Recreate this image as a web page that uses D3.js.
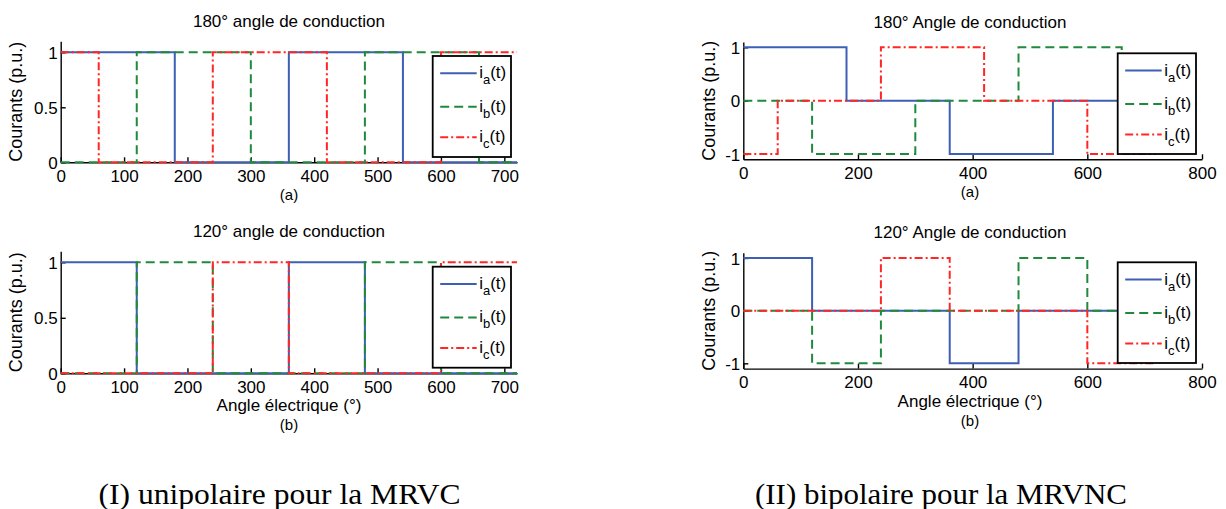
<!DOCTYPE html>
<html><head><meta charset="utf-8">
<script src="https://cdn.jsdelivr.net/npm/d3@7"></script>
<style>body{margin:0;background:#fff}svg{display:block}</style>
</head><body>
<svg id="c" width="1226" height="509"></svg>
<script>
// ---------- data ----------
const ticksLeftX = [0,100,200,300,400,500,600,700];
const ticksRightX = [0,200,400,600,800];
const ticksLeftY = [0,0.5,1];
const ticksRightY = [-1,0,1];
const tickLabelsLeftY = ["0","0.5","1"];
const tickLabelsRightY = ["-1","0","1"];

// 180° unipolar
const u180_ia_x = [0,180,360,540,720], u180_ia_y = [1,0,1,0,0];
const u180_ib_x = [0,120,300,480,660,720], u180_ib_y = [0,1,0,1,0,0];
const u180_ic_x = [0,60,240,420,600,720], u180_ic_y = [1,0,1,0,1,1];
// 120° unipolar
const u120_ia_x = [0,120,360,480,720], u120_ia_y = [1,0,1,0,0];
const u120_ib_x = [0,120,240,480,600,720], u120_ib_y = [0,1,0,1,0,0];
const u120_ic_x = [0,240,360,600,720], u120_ic_y = [0,1,0,1,1];
// 180° bipolar
const b180_ia_x = [0,180,360,540,720], b180_ia_y = [1,0,-1,0,0];
const b180_ib_x = [0,120,300,480,660,720], b180_ib_y = [0,-1,0,1,0,0];
const b180_ic_x = [0,60,240,420,600,720], b180_ic_y = [-1,0,1,0,-1,-1];
// 120° bipolar
const b120_ia_x = [0,120,360,480,720], b120_ia_y = [1,0,-1,0,0];
const b120_ib_x = [0,120,240,480,600,720], b120_ib_y = [0,-1,0,1,0,0];
const b120_ic_x = [0,240,360,600,720], b120_ic_y = [0,1,0,-1,-1];

const seriesNames = ["a","b","c"];
const titles = ["180° angle de conduction","120° angle de conduction","180° Angle de conduction","120° Angle de conduction"];
const subLabels = ["(a)","(b)","(a)","(b)"];
const xLabel = "Angle électrique (°)";
const yLabel = "Courants (p.u.)";
const captions = ["(I) unipolaire pour la MRVC","(II) bipolaire pour la MRVNC"];

// ---------- styles ----------
const colors = ["#3d5fb4","#1f8a3c","#ff2626"];
const dashes = [null,"9,5","8,3,2,3"];
const FONT = "Liberation Sans, Arial, sans-serif";

const zip = (xs,ys)=>xs.map((x,i)=>[x,ys[i]]);

const panels = [
  {title:titles[0], sub:subLabels[0], xl:null,
   xd:[0,720], xr:[60.7,517], yd:[0,1.1], yr:[162.3,41.3],
   xt:ticksLeftX, yt:ticksLeftY, ytl:tickLabelsLeftY, cx:289, ylx:22,
   series:[zip(u180_ia_x,u180_ia_y),zip(u180_ib_x,u180_ib_y),zip(u180_ic_x,u180_ic_y)],
   leg:{x:432.7,y:56,w:78.3,h:101}},
  {title:titles[1], sub:subLabels[1], xl:xLabel,
   xd:[0,720], xr:[60.7,517], yd:[0,1.1], yr:[373.3,251.2],
   xt:ticksLeftX, yt:ticksLeftY, ytl:tickLabelsLeftY, cx:289, ylx:22,
   series:[zip(u120_ia_x,u120_ia_y),zip(u120_ib_x,u120_ib_y),zip(u120_ic_x,u120_ic_y)],
   leg:{x:432.7,y:266.7,w:78.3,h:101}},
  {title:titles[2], sub:subLabels[2], xl:null,
   xd:[0,800], xr:[743.3,1202], yd:[-1.1,1.1], yr:[159.3,42],
   xt:ticksRightX, yt:ticksRightY, ytl:tickLabelsRightY, cx:970, ylx:715,
   series:[zip(b180_ia_x,b180_ia_y),zip(b180_ib_x,b180_ib_y),zip(b180_ic_x,b180_ic_y)],
   leg:{x:1117.7,y:53.3,w:78.3,h:100.7}},
  {title:titles[3], sub:subLabels[3], xl:xLabel,
   xd:[0,800], xr:[743.3,1202], yd:[-1.1,1.1], yr:[368.6,252.7],
   xt:ticksRightX, yt:ticksRightY, ytl:tickLabelsRightY, cx:970, ylx:715,
   series:[zip(b120_ia_x,b120_ia_y),zip(b120_ib_x,b120_ib_y),zip(b120_ic_x,b120_ic_y)],
   leg:{x:1117.7,y:262.3,w:78.3,h:100.7}}
];

const svg = d3.select("#c");

panels.forEach(p=>{
  const x = d3.scaleLinear().domain(p.xd).range(p.xr);
  const y = d3.scaleLinear().domain(p.yd).range(p.yr);
  const g = svg.append("g");
  const y0 = p.yr[0], x0 = p.xr[0];

  // axes (left + bottom) with inward ticks
  const xAxis = d3.axisBottom(x).tickValues(p.xt).tickSizeInner(-5).tickSizeOuter(0);
  const gx = g.append("g").attr("transform",`translate(0,${y0})`).call(xAxis);
  const yAxis = d3.axisLeft(y).tickValues(p.yt).tickFormat((d,i)=>p.ytl[i]).tickSizeInner(-5).tickSizeOuter(0).tickPadding(3);
  const gy = g.append("g").attr("transform",`translate(${x0},0)`).call(yAxis);
  [gx,gy].forEach(a=>{
    a.select(".domain").attr("stroke","#000").attr("stroke-width",1.4);
    a.selectAll(".tick line").attr("stroke","#000").attr("stroke-width",1.4);
    a.selectAll(".tick text").attr("font-family",FONT).attr("font-size",17).attr("fill","#000");
  });
  gx.selectAll(".tick text").attr("dy",null).attr("y",19.5);
  gy.selectAll(".tick text").attr("dy","0.36em");

  // series
  const line = d3.line().x(d=>x(d[0])).y(d=>y(d[1])).curve(d3.curveStepAfter);
  p.series.forEach((s,i)=>{
    g.append("path").datum(s).attr("d",line).attr("fill","none")
      .attr("stroke",colors[i]).attr("stroke-width",2)
      .attr("stroke-dasharray",dashes[i]);
  });

  // title
  g.append("text").attr("x",p.cx).attr("y",p.yr[1]-14.5).attr("text-anchor","middle")
    .attr("font-family",FONT).attr("font-size",17).text(p.title);
  // y label
  g.append("text").attr("transform",`translate(${p.ylx},${(p.yr[0]+p.yr[1])/2}) rotate(-90)`)
    .attr("text-anchor","middle").attr("font-family",FONT).attr("font-size",18).text(yLabel);
  // x label
  let subY = y0+38;
  if(p.xl){
    g.append("text").attr("x",p.cx).attr("y",y0+38).attr("text-anchor","middle")
      .attr("font-family",FONT).attr("font-size",17).text(p.xl);
    subY = y0+57;
  }
  g.append("text").attr("x",p.cx).attr("y",subY).attr("text-anchor","middle")
    .attr("font-family",FONT).attr("font-size",15).text(p.sub);

  // legend
  const L = p.leg;
  const lg = g.append("g");
  lg.append("rect").attr("x",L.x).attr("y",L.y).attr("width",L.w).attr("height",L.h)
    .attr("fill","#fff").attr("stroke","#000").attr("stroke-width",1.8);
  const rowsY = [17.3,50.7,81.3];
  seriesNames.forEach((n,i)=>{
    const ly = L.y + rowsY[i];
    lg.append("line").attr("x1",L.x+7.5).attr("x2",L.x+44).attr("y1",ly).attr("y2",ly)
      .attr("stroke",colors[i]).attr("stroke-width",2).attr("stroke-dasharray",dashes[i]);
    const t = lg.append("text").attr("x",L.x+46.5).attr("y",ly+5).attr("font-family",FONT).attr("font-size",17);
    t.append("tspan").text("i");
    t.append("tspan").attr("font-size",13).attr("dy",6).text(n);
    t.append("tspan").attr("dy",-6).text("(t)");
  });
});

// captions
svg.append("text").attr("x",279.5).attr("y",504).attr("text-anchor","middle")
  .attr("font-family","Liberation Serif, Times New Roman, serif").attr("font-size",29)
  .attr("textLength",362).attr("lengthAdjust","spacingAndGlyphs").text(captions[0]);
svg.append("text").attr("x",941).attr("y",504).attr("text-anchor","middle")
  .attr("font-family","Liberation Serif, Times New Roman, serif").attr("font-size",29)
  .attr("textLength",372).attr("lengthAdjust","spacingAndGlyphs").text(captions[1]);
</script>
</body></html>
